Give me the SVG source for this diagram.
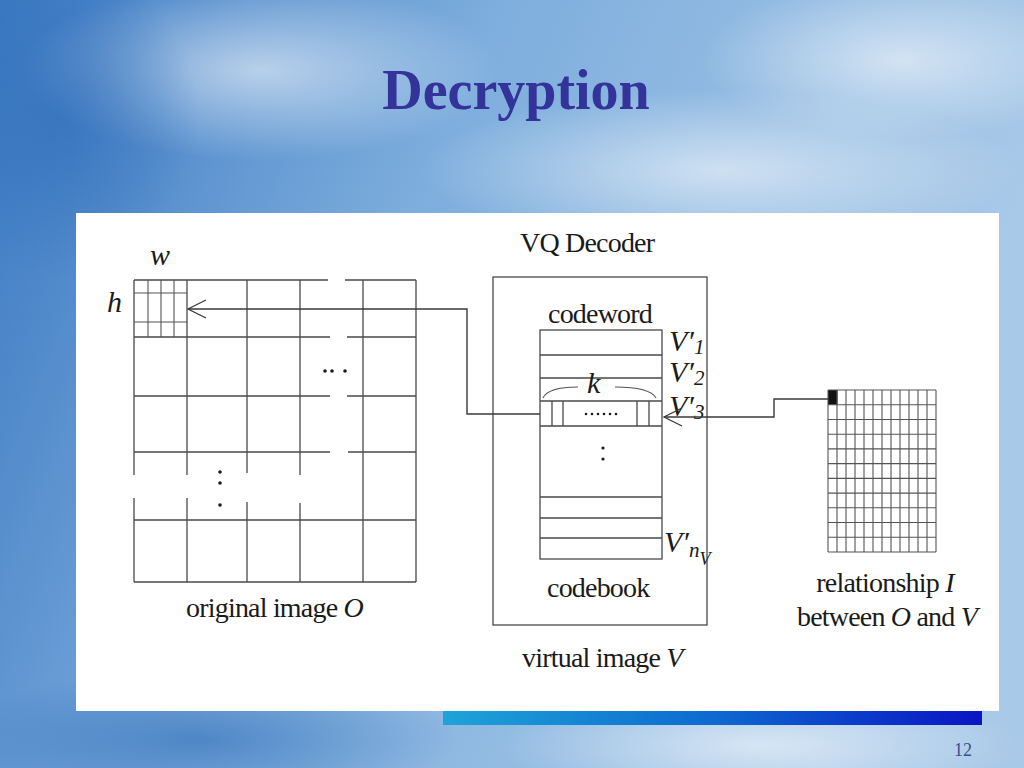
<svg xmlns="http://www.w3.org/2000/svg" width="1024" height="768" viewBox="0 0 1024 768">
<defs>
<linearGradient id="sky" x1="0" y1="0" x2="1" y2="0.3">
<stop offset="0" stop-color="#3a78c2"/>
<stop offset="0.45" stop-color="#7eaedd"/>
<stop offset="1" stop-color="#a9c9e8"/>
</linearGradient>
<radialGradient id="cloud" cx="0.5" cy="0.5" r="0.5">
<stop offset="0" stop-color="#ffffff" stop-opacity="0.55"/>
<stop offset="1" stop-color="#ffffff" stop-opacity="0"/>
</radialGradient>
<radialGradient id="dark" cx="0.5" cy="0.5" r="0.5">
<stop offset="0" stop-color="#2f6db8" stop-opacity="0.6"/>
<stop offset="1" stop-color="#2f6db8" stop-opacity="0"/>
</radialGradient>
<linearGradient id="bar" x1="0" y1="0" x2="1" y2="0">
<stop offset="0" stop-color="#1ea3d8"/>
<stop offset="0.5" stop-color="#0d6ad0"/>
<stop offset="1" stop-color="#0a14c4"/>
</linearGradient>
<marker id="open" markerUnits="userSpaceOnUse" orient="auto" overflow="visible" markerWidth="20" markerHeight="20">
<path d="M-18,-9 L0,0 L-18,9" fill="none" stroke="#3a3a3a" stroke-width="1.3"/>
</marker>
<style>
.ln{fill:none;stroke:#4a4a4a;stroke-width:1.3}
.thin{fill:none;stroke:#555;stroke-width:1.1}
.conn{fill:none;stroke:#3a3a3a;stroke-width:1.4}
.t{font-family:"Liberation Serif","Times New Roman",serif;font-size:28px;fill:#1a1a1a;letter-spacing:-0.8px}
.i{font-style:italic}
.vi{font-family:"Liberation Serif","Times New Roman",serif;font-style:italic;font-size:30px;fill:#1a1a1a}
.sub{font-size:21px}
.dot{fill:#1a1a1a}
</style>
</defs>

<!-- slide background -->
<rect x="0" y="0" width="1024" height="768" fill="url(#sky)"/>
<ellipse cx="260" cy="70" rx="240" ry="90" fill="url(#cloud)"/>
<ellipse cx="720" cy="170" rx="300" ry="80" fill="url(#cloud)"/>
<ellipse cx="900" cy="60" rx="200" ry="80" fill="url(#cloud)"/>
<ellipse cx="760" cy="745" rx="260" ry="60" fill="url(#cloud)"/>
<ellipse cx="60" cy="120" rx="140" ry="160" fill="url(#dark)"/>
<ellipse cx="200" cy="740" rx="260" ry="70" fill="url(#dark)"/>

<text x="516" y="109" text-anchor="middle" font-family="Liberation Serif, Times New Roman, serif" font-weight="bold" font-size="56" fill="#33339a">Decryption</text>

<rect x="443" y="709" width="539" height="16" fill="url(#bar)"/>
<rect x="76" y="213" width="923" height="498" fill="#ffffff"/>
<text x="972" y="756" text-anchor="end" font-family="Liberation Serif, Times New Roman, serif" font-size="18" fill="#3a4f8c">12</text>

<!-- original image O -->
<g id="original-image">
<path class="ln" d="M134,280 H328 M345,280 H416 M134,337 H330 M347,337 H416 M134,396 H330 M347,396 H416 M134,452 H330 M348,452 H416 M134,520 H416 M134,582 H416"/>
<path class="ln" d="M134,280 V475 M134,498 V582 M187,280 V475 M187,498 V582 M247,280 V473 M247,502 V582 M300,280 V475 M300,503 V582 M363,280 V582 M416,280 V582"/>
<path class="thin" d="M148,280 V337 M161,280 V337 M174,280 V337 M134,293 H187 M134,322 H187"/>
<text class="vi" x="150" y="265">w</text>
<text class="vi" x="107" y="312">h</text>
<circle class="dot" cx="325" cy="371" r="1.8"/>
<circle class="dot" cx="332" cy="371" r="1.8"/>
<circle class="dot" cx="345" cy="371" r="1.8"/>
<circle class="dot" cx="220" cy="472" r="1.8"/>
<circle class="dot" cx="220" cy="483" r="1.8"/>
<circle class="dot" cx="220" cy="505" r="1.8"/>
<text class="t" x="186" y="617">original image <tspan class="i">O</tspan></text>
</g>

<!-- VQ decoder / virtual image V -->
<g id="vq-decoder">
<rect class="ln" x="493" y="277" width="214" height="348"/>
<text class="t" x="520" y="252">VQ Decoder</text>
<text class="t" x="522" y="667">virtual image <tspan class="i">V</tspan></text>
</g>

<!-- codebook -->
<g id="codebook">
<text class="t" x="548" y="323">codeword</text>
<rect class="ln" x="540" y="330" width="122" height="229"/>
<path class="ln" d="M540,355 H662 M540,378 H662 M540,401 H662 M540,426 H662 M540,497 H662 M540,518 H662 M540,538 H662"/>
<path class="ln" d="M552,401 V426 M563,401 V426 M637,401 V426 M649,401 V426"/>
<path class="thin" d="M543,398 Q548,387 578,387 M615,387 Q650,387 656,398"/>
<text class="vi" x="587" y="393" font-size="28">k</text>
<circle class="dot" cx="586" cy="414" r="1.3"/>
<circle class="dot" cx="592" cy="414" r="1.3"/>
<circle class="dot" cx="598" cy="414" r="1.3"/>
<circle class="dot" cx="604" cy="414" r="1.3"/>
<circle class="dot" cx="610" cy="414" r="1.3"/>
<circle class="dot" cx="616" cy="414" r="1.3"/>
<circle class="dot" cx="603" cy="448" r="1.6"/>
<circle class="dot" cx="603" cy="459" r="1.6"/>
<text class="vi" x="669" y="351">V′<tspan class="sub" dy="3">1</tspan></text>
<text class="vi" x="669" y="382">V′<tspan class="sub" dy="3">2</tspan></text>
<text class="vi" x="669" y="416">V′<tspan class="sub" dy="3">3</tspan></text>
<text class="vi" x="664" y="552">V′<tspan class="sub" font-size="20" dy="5">n</tspan><tspan font-size="18" dy="8">V</tspan></text>
<text class="t" x="547" y="597">codebook</text>
</g>

<!-- relationship I -->
<g id="relationship">
<rect x="828" y="390" width="9.5" height="14.7" fill="#111"/>
<path class="thin" d="M828,390 V552 M837,390 V552 M846,390 V552 M855,390 V552 M864,390 V552 M873,390 V552 M882,390 V552 M891,390 V552 M900,390 V552 M909,390 V552 M918,390 V552 M927,390 V552 M936,390 V552"/>
<path class="thin" d="M828,390 H936 M828,404.7 H936 M828,419.5 H936 M828,434.2 H936 M828,448.9 H936 M828,463.6 H936 M828,478.4 H936 M828,493.1 H936 M828,507.8 H936 M828,522.5 H936 M828,537.3 H936 M828,552 H936"/>
<text class="t" x="885" y="592" text-anchor="middle">relationship <tspan class="i">I</tspan></text>
<text class="t" x="887" y="626" text-anchor="middle">between <tspan class="i">O</tspan> and <tspan class="i">V</tspan></text>
</g>

<!-- connectors -->
<g id="connectors">
<path class="conn" d="M828,399 H774 V417 H664" marker-end="url(#open)"/>
<path class="conn" d="M540,414 H467 V309 H188" marker-end="url(#open)"/>
</g>
</svg>
